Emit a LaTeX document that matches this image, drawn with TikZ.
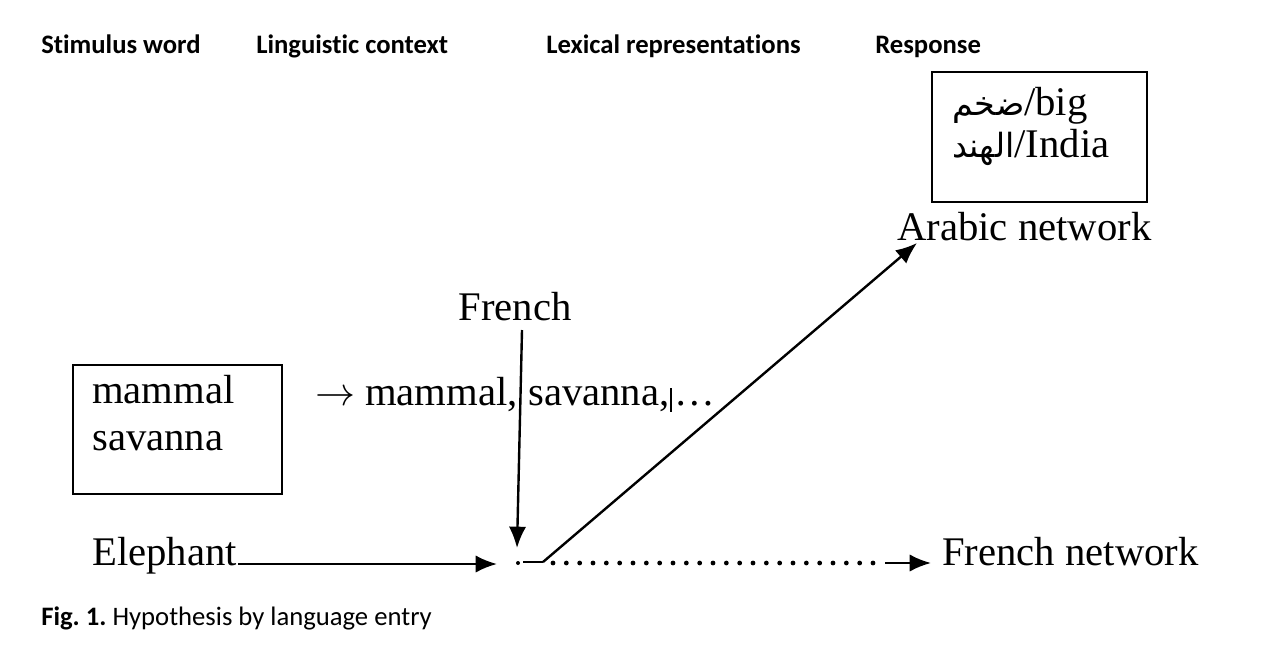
\documentclass[tikz,border=0pt]{standalone}
\usepackage{fontspec}
\setmainfont{Liberation Serif}
\newfontfamily\headfont[Ligatures={NoCommon}]{Carlito}
\newfontfamily\arabicfont[Script=Arabic]{DejaVu Sans}
\TeXXeTstate=1
\frenchspacing
\usetikzlibrary{arrows.meta}
\begin{document}
\begin{tikzpicture}[x=0.75pt,y=-0.75pt,
  head/.style={anchor=base west,inner sep=0pt,font=\headfont\bfseries\fontsize{20}{24}\selectfont},
  captxt/.style={anchor=base west,inner sep=0pt,font=\headfont\fontsize{20}{24}\selectfont},
  lbl/.style={anchor=base west,inner sep=0pt,font=\fontsize{30.5}{35}\selectfont},
  conn/.style={line width=1.8pt,-{Latex[length=16pt,width=13pt]}},
  solidseg/.style={line width=1.8pt},
  dotline/.style={line width=3.6pt,line cap=round,dash pattern=on 0pt off 10pt}]
\useasboundingbox (0,0) rectangle (1262,664);
% headers
\node[head] (h1) at (41,53) {Stimulus word};
\node[head] (h2) at (256,53) {Linguistic context};
\node[head] (h3) at (546,53) {Lexical representations};
\node[head] (h4) at (875,53) {Response};
% response box
\draw[line width=1pt] (932,72) rectangle (1147,202);
\node[lbl] (big) at (952,115) {{\arabicfont\fontsize{25}{30}\selectfont\beginR ضخم\endR}/big};
\node[lbl] (india) at (952,157) {{\arabicfont\fontsize{25}{30}\selectfont\beginR الهند\endR}/India};
\node[lbl] (arnet) at (897,240) {Arabic network};
% French context
\node[lbl,anchor=base] (french) at (515,320) {French};
% stimulus box
\draw[line width=1pt] (73,365) rectangle (282,494);
\node[lbl] (mammal) at (92,403) {mammal};
\node[lbl] (savanna) at (92,450) {savanna};
\node[lbl] (larrow) at (315,405) {\resizebox{30pt}{!}{$\rightarrow$}};
\node[lbl] (l1) at (365,405) {mammal,};
\node[lbl] (l2) at (528,405) {savanna,};
\node[lbl] (l3) at (674,405) {…};
\draw[line width=0.8pt] (671,388) -- (671,412);
% bottom row
\node[lbl] (eleph) at (92,565) {Elephant};
\node[lbl] (frnet) at (942,565) {French network};
\node[captxt] (caption) at (41,625) {\textbf{Fig. 1.} Hypothesis by language entry};
% coordinates
\coordinate (hub) at (518,563);
\coordinate (hubtop) at (517,548);
\coordinate (ftop) at (522,330);
\coordinate (dstart) at (543,562);
\coordinate (dend) at (885,563);
\coordinate (arrtip) at (917,243);
\coordinate (ftip) at (931,563);
\coordinate (estart) at (238,564);
\coordinate (etip) at (497,564);
% connectors
\draw[conn] (estart) -- (etip);
\draw[conn] (ftop) -- (hubtop);
\draw[conn] (dstart) -- (arrtip);
\fill (hub) circle (2);
\draw[solidseg] (523,562) -- (dstart);
\draw[dotline] (553,563) -- (dend);
\draw[conn] (dend) -- (ftip);
\end{tikzpicture}
\end{document}
